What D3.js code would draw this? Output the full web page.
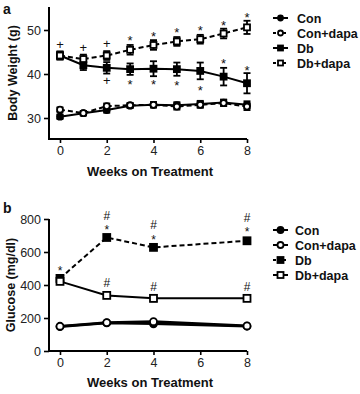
<!DOCTYPE html>
<html><head><meta charset="utf-8">
<script src="https://cdn.jsdelivr.net/npm/d3@7"></script>
<style>body{margin:0;background:#fff}svg{display:block}text{font-family:"Liberation Sans",Arial,sans-serif}</style>
</head><body><svg id="c" width="360" height="394"></svg>
<script>
// Panel a data
const weeksA = [0,1,2,3,4,5,6,7,8];
const conA = [30.3,31.1,31.8,32.8,33.0,32.9,33.2,33.5,33.0];
const conDapaA = [31.9,31.1,32.7,32.9,33.0,32.6,33.0,33.4,32.6];
const dbA = [44.2,42.0,41.4,41.1,41.2,41.1,40.7,39.4,37.9];
const dbDapaA = [44.2,43.4,44.2,45.5,46.6,47.4,47.9,49.2,50.6];
const dbErrA = [0.9,1.1,1.3,1.3,1.7,1.5,1.9,2.0,2.3];
const dbDapaErrA = [0.9,1.0,1.0,1.1,1.1,1.0,1.0,1.1,1.5];
const smallErrA = [0.5,0.5,0.6,0.5,0.6,0.7,0.7,0.7,0.8];
const ticksAX = [0,2,4,6,8];
const ticksAY = [30,40,50];
// annotations panel a: [week, value at symbol centre, symbol]
const annotA = [[0,46.8,"+"],[1,46.1,"+"],[2,47.0,"+"],[3,48.4,"*"],[4,49.3,"*"],[5,50.2,"*"],[6,50.5,"*"],[7,51.8,"*"],[8,53.6,"*"],
  [2,38.6,"+"],[3,38.2,"*"],[4,38.4,"*"],[5,38.0,"*"],[6,37.0,"*"],[7,43.0,"*"],[8,41.4,"*"]];
// Panel b data
const weeksB = [0,2,4,8];
const conB = [148,170,165,150];
const conDapaB = [150,172,178,152];
const dbB = [440,688,628,668];
const dbDapaB = [422,337,319,319];
const dbErrB = [18,8,15,15];
const dbDapaErrB = [15,10,18,8];
const ticksBX = [0,2,4,6,8];
const ticksBY = [0,200,400,600,800];
const annotB = [[0,503,"*"],[2,818,"#"],[2,752,"*"],[4,764,"#"],[4,691,"*"],[8,806,"#"],[8,739,"*"],[2,412,"#"],[4,388,"#"],[8,388,"#"]];
const legendNames = ["Con","Con+dapa","Db","Db+dapa"];

const svg = d3.select("#c");

function panel(cfg){
  const g = svg.append("g");
  const x = d3.scaleLinear().domain([-0.47,8]).range([49,247]);
  const y = d3.scaleLinear().domain(cfg.yDomain).range(cfg.yRange);
  const ax = g.append("g").attr("transform",`translate(0,${cfg.axisY})`)
    .call(d3.axisBottom(x).tickValues(cfg.xTicks).tickSize(4).tickPadding(3).tickFormat(d3.format("d")));
  const ay = g.append("g").attr("transform",`translate(49,0)`)
    .call(d3.axisLeft(y).tickValues(cfg.yTicks).tickSize(5).tickPadding(3).tickFormat(d3.format("d")));
  [ax,ay].forEach(a=>{
    a.select(".domain").attr("stroke","#000").attr("stroke-width",2);
    a.selectAll(".tick line").attr("stroke","#000").attr("stroke-width",1.6);
    a.selectAll(".tick text").attr("fill","#222").attr("font-size",12.5);
  });
  ax.select(".domain").attr("d",`M48,0H247`);
  ay.select(".domain").attr("d",`M0,${cfg.axisY}V${cfg.yTop}`);
  g.append("text").attr("x",150).attr("y",cfg.xTitleY).attr("text-anchor","middle")
    .attr("font-weight","bold").attr("font-size",13).attr("fill","#111").text("Weeks on Treatment");
  g.append("text").attr("transform",`translate(${cfg.yTitleX},${(cfg.axisY+cfg.yTop)/2}) rotate(-90)`)
    .attr("text-anchor","middle").attr("font-weight","bold").attr("font-size",12.5).attr("fill","#111").text(cfg.yTitle);
  g.append("text").attr("x",3).attr("y",cfg.labelY).attr("font-weight","bold").attr("font-size",14).attr("fill","#111").text(cfg.label);
  const line = d3.line().x(d=>x(d[0])).y(d=>y(d[1]));
  cfg.series.forEach(s=>{
    const pts = cfg.weeks.map((w,i)=>[w,s.values[i]]);
    if(s.err){
      const eb = g.append("g");
      pts.forEach((p,i)=>{
        const e=s.err[i], cx=x(p[0]);
        eb.append("line").attr("x1",cx).attr("x2",cx).attr("y1",y(p[1]-e)).attr("y2",y(p[1]+e)).attr("stroke","#000").attr("stroke-width",1.8);
        [p[1]-e,p[1]+e].forEach(v=>eb.append("line").attr("x1",cx-3.5).attr("x2",cx+3.5).attr("y1",y(v)).attr("y2",y(v)).attr("stroke","#000").attr("stroke-width",1.8));
      });
    }
    g.append("path").datum(pts).attr("d",line).attr("fill","none").attr("stroke","#000")
      .attr("stroke-width",s.thick?2.6:2).attr("stroke-dasharray",s.dashed?"5,3":null);
    pts.forEach(p=>drawMarker(g,x(p[0]),y(p[1]),s.shape,s.filled,cfg.ms));
  });
  const fs = cfg.annotFs;
  cfg.annot.forEach(a=>{
    const off = a[2]==="*" ? fs*0.58 : fs*0.36;
    g.append("text").attr("x",x(a[0])).attr("y",y(a[1])+off).attr("text-anchor","middle")
      .attr("font-size",fs).attr("fill","#111").text(a[2]);
  });
  cfg.series.forEach((s,i)=>{
    const ly = cfg.legY + i*15;
    g.append("line").attr("x1",273).attr("x2",288).attr("y1",ly).attr("y2",ly).attr("stroke","#000")
      .attr("stroke-width",2).attr("stroke-dasharray",s.dashed?"3,2":null);
    drawMarker(g,280.5,ly,s.shape,s.filled,cfg.ms-1);
    g.append("text").attr("x",cfg.legX).attr("y",ly+4.5).attr("font-weight","bold").attr("font-size",12.5).attr("fill","#111").text(legendNames[i]);
  });
}
function drawMarker(g,cx,cy,shape,filled,size){
  const fill = filled?"#000":"#fff";
  if(shape==="circle"){
    g.append("circle").attr("cx",cx).attr("cy",cy).attr("r",size/2).attr("fill",fill).attr("stroke","#000").attr("stroke-width",1.8);
  } else {
    g.append("rect").attr("x",cx-size/2).attr("y",cy-size/2).attr("width",size).attr("height",size).attr("fill",fill).attr("stroke","#000").attr("stroke-width",1.8);
  }
}

panel({
  weeks:weeksA, yDomain:[30,50], yRange:[118,30], axisY:139, yTop:7, xTicks:ticksAX, yTicks:ticksAY,
  yTitle:"Body Weight (g)", yTitleX:17, xTitleY:176, label:"a", labelY:14, ms:6, annotFs:13,
  legY:18, legX:297, annot:annotA,
  series:[
    {values:conA, shape:"circle", filled:true, dashed:false, err:smallErrA},
    {values:conDapaA, shape:"circle", filled:false, dashed:true, err:smallErrA},
    {values:dbA, shape:"square", filled:true, dashed:false, err:dbErrA},
    {values:dbDapaA, shape:"square", filled:false, dashed:true, err:dbDapaErrA}
  ]
});
panel({
  weeks:weeksB, yDomain:[0,800], yRange:[351,219], axisY:351, yTop:219, xTicks:ticksBX, yTicks:ticksBY,
  yTitle:"Glucose (mg/dl)", yTitleX:15, xTitleY:387, label:"b", labelY:213, ms:7, annotFs:12,
  legY:230, legX:295, annot:annotB,
  series:[
    {values:conB, shape:"circle", filled:true, dashed:false, err:null, thick:true},
    {values:conDapaB, shape:"circle", filled:false, dashed:false, err:null, thick:true},
    {values:dbB, shape:"square", filled:true, dashed:true, err:dbErrB},
    {values:dbDapaB, shape:"square", filled:false, dashed:false, err:dbDapaErrB}
  ]
});
</script></body></html>
